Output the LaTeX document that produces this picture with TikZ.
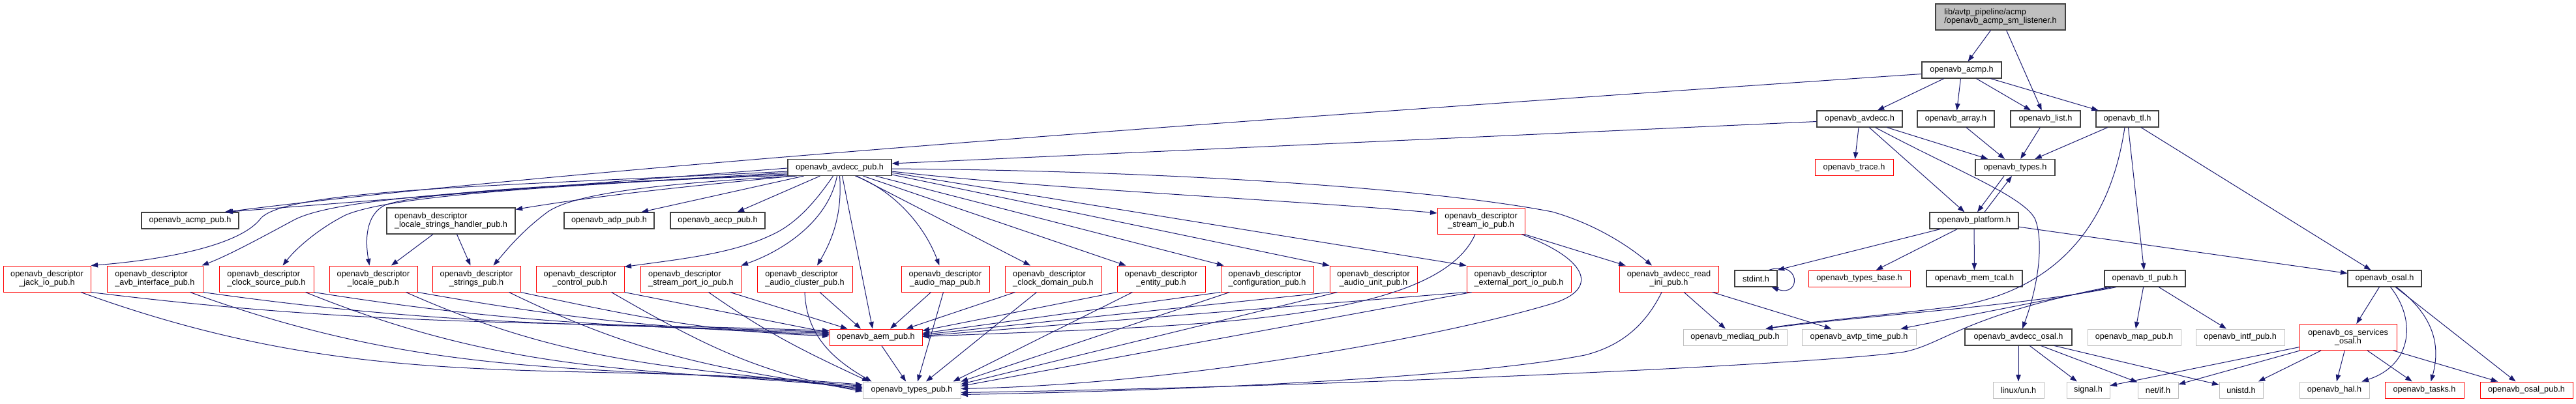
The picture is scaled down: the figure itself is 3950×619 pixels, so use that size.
\documentclass[tikz,border=0pt]{standalone}
\usepackage{fontspec}
\setmainfont{Liberation Sans}
\usetikzlibrary{arrows.meta}

\newcommand{\boxfont}{\fontsize{12.7}{13.4}\selectfont}

\begin{document}
\begin{tikzpicture}[x=1pt, y=-1pt]

% ---------------------------------------------------------------- colours
\definecolor{edgeblue}{HTML}{191970}   % every include arrow
\definecolor{hdrline}{HTML}{404040}    % headers with a page of their own
\definecolor{extline}{HTML}{BFBFBF}    % system / outside headers
\definecolor{rootfill}{HTML}{BFBFBF}   % the file this graph is for
\definecolor{missred}{HTML}{FF0000}    % headers whose graph was cut short

% ---------------------------------------------------------------- styles
\tikzset{
    incl/.style={draw=hdrline, line width=1.2pt, inner sep=0pt,
                 minimum height=25pt, font=\boxfont},
    rootincl/.style={incl, fill=rootfill, minimum height=40pt, align=left},
    redincl/.style={incl, draw=missred, line width=1pt},
    sysincl/.style={incl, draw=extline, line width=1pt},
    twoline/.style={minimum height=40pt},
    dep/.style={edgeblue, line width=1pt,
                -{Triangle[length=10.5pt, width=7.5pt]}},
}

% picture is laid out in pixel units, y running down
\useasboundingbox (0,0) rectangle (3950,619);

% ================================================================
% NODES, rank by rank
% ================================================================

\node[rootincl, minimum width=199pt] (main) at (3067.5,26)
    {lib/avtp\_pipeline/acmp\\/openavb\_acmp\_sm\_listener.h};

\node[incl, minimum width=122pt] (acmp) at (3008,107.5) {openavb\_acmp.h};

\node[incl, minimum width=131pt] (avdecc) at (2851.5,182.5) {openavb\_avdecc.h};
\node[incl, minimum width=118pt] (array) at (2999,182.5) {openavb\_array.h};
\node[incl, minimum width=107pt] (list) at (3136.5,182.5) {openavb\_list.h};
\node[incl, minimum width=96pt] (tl) at (3262,182.5) {openavb\_tl.h};

\node[incl, minimum width=159pt] (avdeccpub) at (1287.5,257) {openavb\_avdecc\_pub.h};
\node[redincl, minimum width=120pt] (trace) at (2843,257) {openavb\_trace.h};
\node[incl, minimum width=122pt] (types) at (3090,257) {openavb\_types.h};

\node[incl, minimum width=149pt] (acmppub) at (291.5,338.5) {openavb\_acmp\_pub.h};
\node[incl, twoline, align=left, minimum width=197pt] (lsh) at (691.5,339)
    {openavb\_descriptor\\\_locale\_strings\_handler\_pub.h};
\node[incl, minimum width=138pt] (adp) at (934,338.5) {openavb\_adp\_pub.h};
\node[incl, minimum width=145pt] (aecp) at (1100.5,338.5) {openavb\_aecp\_pub.h};
\node[redincl, twoline, align=center, minimum width=134pt] (streamio) at (2271,339)
    {openavb\_descriptor\\\_stream\_io\_pub.h};
\node[incl, minimum width=136pt] (platform) at (3027,338.5) {openavb\_platform.h};

% the descriptor headers
\node[redincl, twoline, align=center, minimum width=134pt] (jackio) at (72,428)
    {openavb\_descriptor\\\_jack\_io\_pub.h};
\node[redincl, twoline, align=left, minimum width=147pt] (avbif) at (237.5,428)
    {openavb\_descriptor\\\_avb\_interface\_pub.h};
\node[redincl, twoline, align=left, minimum width=145pt] (clksrc) at (408.5,428)
    {openavb\_descriptor\\\_clock\_source\_pub.h};
\node[redincl, twoline, align=center, minimum width=135pt] (localepub) at (572.5,428)
    {openavb\_descriptor\\\_locale\_pub.h};
\node[redincl, twoline, align=center, minimum width=135pt] (stringspub) at (730.5,428)
    {openavb\_descriptor\\\_strings\_pub.h};
\node[redincl, twoline, align=center, minimum width=135pt] (controlpub) at (889.5,428)
    {openavb\_descriptor\\\_control\_pub.h};
\node[redincl, twoline, align=left, minimum width=155pt] (streamportio) at (1059.5,428)
    {openavb\_descriptor\\\_stream\_port\_io\_pub.h};
\node[redincl, twoline, align=left, minimum width=146pt] (audiocluster) at (1234,428)
    {openavb\_descriptor\\\_audio\_cluster\_pub.h};
\node[redincl, twoline, align=center, minimum width=135pt] (audiomap) at (1449.5,428)
    {openavb\_descriptor\\\_audio\_map\_pub.h};
\node[redincl, twoline, align=left, minimum width=148pt] (clkdomain) at (1615,428)
    {openavb\_descriptor\\\_clock\_domain\_pub.h};
\node[redincl, twoline, align=center, minimum width=135pt] (entity) at (1780.5,428)
    {openavb\_descriptor\\\_entity\_pub.h};
\node[redincl, twoline, align=left, minimum width=142pt] (config) at (1943,428)
    {openavb\_descriptor\\\_configuration\_pub.h};
\node[redincl, twoline, align=center, minimum width=134pt] (audiounit) at (2106,428)
    {openavb\_descriptor\\\_audio\_unit\_pub.h};
\node[redincl, twoline, align=left, minimum width=160pt] (extportio) at (2329,428)
    {openavb\_descriptor\\\_external\_port\_io\_pub.h};
\node[redincl, twoline, align=center, minimum width=152pt] (readini) at (2559,428)
    {openavb\_avdecc\_read\\\_ini\_pub.h};

\node[incl, minimum width=65pt] (stdint) at (2692.5,427.5) {stdint.h};
\node[redincl, minimum width=156pt] (typesbase) at (2851,427.5) {openavb\_types\_base.h};
\node[incl, minimum width=147pt] (memtcal) at (3027.5,427.5) {openavb\_mem\_tcal.h};
\node[incl, minimum width=124pt] (tlpub) at (3289,427.5) {openavb\_tl\_pub.h};
\node[incl, minimum width=113pt] (osal) at (3656.5,427.5) {openavb\_osal.h};

\node[redincl, minimum width=142pt] (aempub) at (1343,517.5) {openavb\_aem\_pub.h};
\node[sysincl, minimum width=159pt] (mediaq) at (2660.5,517.5) {openavb\_mediaq\_pub.h};
\node[sysincl, minimum width=175pt] (avtptime) at (2850.5,517.5) {openavb\_avtp\_time\_pub.h};
\node[incl, minimum width=164pt] (avdeccosal) at (3095,517.5) {openavb\_avdecc\_osal.h};
\node[sysincl, minimum width=143pt] (mappub) at (3272.5,517.5) {openavb\_map\_pub.h};
\node[sysincl, minimum width=136pt] (intfpub) at (3435,517.5) {openavb\_intf\_pub.h};
\node[redincl, twoline, align=center, minimum width=149pt] (ossvc) at (3600.5,517.5)
    {openavb\_os\_services\\\_osal.h};

\node[sysincl, minimum width=150pt] (typespub) at (1398,598.5) {openavb\_types\_pub.h};
\node[sysincl, minimum width=78pt] (linuxun) at (3095,598.5) {linux/un.h};
\node[sysincl, minimum width=66pt] (signal) at (3202,598.5) {signal.h};
\node[sysincl, minimum width=62pt] (netif) at (3309,598.5) {net/if.h};
\node[sysincl, minimum width=67pt] (unistd) at (3436.5,598.5) {unistd.h};
\node[sysincl, minimum width=107pt] (hal) at (3579.5,598.5) {openavb\_hal.h};
\node[redincl, minimum width=121pt] (tasks) at (3717.5,598.5) {openavb\_tasks.h};
\node[redincl, minimum width=142pt] (osalpub) at (3874,598.5) {openavb\_osal\_pub.h};

% ================================================================
% INCLUDES, grouped by the file that does the including
% ================================================================

% ---------------------------------------------------------------- top
\draw[dep] (main) -- (acmp);
\draw[dep] (main) -- (list);

\draw[dep] (acmp) -- (avdecc);
\draw[dep] (acmp) -- (array);
\draw[dep] (acmp) -- (list);
\draw[dep] (acmp) -- (tl);
% long run right across the top, past avdecc_pub
\draw[dep] ([yshift=-6]acmp.west) .. controls (2000,178) and (900,255)
    .. ([xshift=-22]acmppub.north east);

\draw[dep] ([yshift=-4]avdecc.west) -- ([yshift=6]avdeccpub.east);
\draw[dep] (avdecc) -- (trace);
\draw[dep] (avdecc) -- (types);
\draw[dep] (avdecc) -- (platform);
\draw[dep] ([xshift=24]avdecc.south) .. controls (3000,262) and (3100,300)
    .. (3120,335) .. controls (3135,370) and (3125,440)
    .. ([xshift=6]avdeccosal.north);

\draw[dep] (array) -- (types);
\draw[dep] (list) -- (types);

\draw[dep] (tl) -- (types);
\draw[dep] (tl) -- (tlpub);
\draw[dep] (tl) -- (osal);
\draw[dep] ([xshift=-4]tl.south) .. controls (3235,350) and (3150,445)
    .. (3000,470) .. controls (2880,485) and (2760,495)
    .. ([xshift=47]mediaq.north);

% types.h and platform.h include each other
\draw[dep] ([xshift=-17]types.south) -- ([xshift=5]platform.north);
\draw[dep] ([xshift=16]platform.north) -- ([xshift=-5]types.south);
\draw[dep] (platform) -- (stdint.north east);
\draw[dep] (platform) -- (typesbase);
\draw[dep] (platform) -- (memtcal);
\draw[dep] (platform) -- (osal);
% stdint.h includes itself
\draw[dep] ([xshift=20]stdint.north) .. controls (2762,398) and (2762,457)
    .. ([xshift=24]stdint.south);

% ---------------------------------------------------------------- osal side
\draw[dep] (osal) -- (ossvc);
\draw[dep] ([xshift=9]osal.south) .. controls (3705,490) and (3700,560)
    .. ([xshift=-12]hal.north east);
\draw[dep] ([xshift=18]osal.south) .. controls (3740,490) and (3740,540)
    .. ([xshift=10]tasks.north);
\draw[dep] (osal) -- (osalpub);

\draw[dep] (ossvc) -- (hal);
\draw[dep] (ossvc) -- (tasks);
\draw[dep] (ossvc) -- (osalpub);
\draw[dep] (ossvc) -- (signal);
\draw[dep] (ossvc) -- (netif);
\draw[dep] (ossvc) -- (unistd);

\draw[dep] (avdeccosal) -- (linuxun);
\draw[dep] (avdeccosal) -- (signal);
\draw[dep] (avdeccosal) -- (netif);
\draw[dep] (avdeccosal) -- (unistd);

\draw[dep] (tlpub) -- (mappub);
\draw[dep] (tlpub) -- (intfpub);
\draw[dep] ([xshift=-44]tlpub.south) .. controls (3100,470) and (2850,485)
    .. ([xshift=47]mediaq.north);
\draw[dep] ([xshift=-50]tlpub.south) -- ([xshift=64]avtptime.north);
\draw[dep] ([xshift=-56]tlpub.south) .. controls (3010,485) and (2980,528)
    .. (2920,540) .. controls (2800,558) and (2100,592)
    .. ([yshift=-4]typespub.east);

\draw[dep] (readini) -- (mediaq);
\draw[dep] (readini) -- (avtptime);
\draw[dep] ([xshift=-11]readini.south) .. controls (2525,495) and (2490,530)
    .. (2430,545) .. controls (2250,580) and (1800,600)
    .. ([yshift=-7]typespub.east);

\draw[dep] (streamio) -- (readini);
\draw[dep] ([xshift=-9]streamio.south) .. controls (2200,500) and (1800,500)
    .. ([yshift=1]aempub.east);
\draw[dep] ([xshift=62]streamio.south) .. controls (2440,400) and (2450,445)
    .. (2380,466) .. controls (2200,520) and (1800,590)
    .. ([yshift=2]typespub.east);

\draw[dep] (lsh) -- (localepub);
\draw[dep] (lsh) -- (stringspub);

\draw[dep] (aempub) -- (typespub);

% ---------------------------------------------------------------- avdecc_pub fans out
\draw[dep] ([yshift=-1]avdeccpub.west) -- ([xshift=-20]acmppub.north east);
\draw[dep] ([yshift=-6]avdeccpub.west) .. controls (780,285) and (440,290)
    .. (400,335) .. controls (370,375) and (260,398) .. (jackio.north east);
\draw[dep] ([yshift=-8]avdeccpub.west) .. controls (800,290) and (520,300)
    .. (450,338) .. controls (400,365) and (350,392)
    .. ([xshift=-2]avbif.north east);
\draw[dep] ([yshift=-10]avdeccpub.west) .. controls (850,285) and (600,300)
    .. (530,330) .. controls (490,350) and (455,380)
    .. ([xshift=25]clksrc.north);
\draw[dep] ([yshift=-12]avdeccpub.west) .. controls (900,280) and (640,295)
    .. (590,315) .. controls (560,330) and (560,370)
    .. ([xshift=-6]localepub.north);
\draw[dep] ([xshift=-72]avdeccpub.south) .. controls (1100,282) and (950,295)
    .. ([yshift=-3]lsh.north east);
\draw[dep] ([xshift=-66]avdeccpub.south) .. controls (1000,282) and (880,298)
    .. (840,325) .. controls (800,355) and (780,380)
    .. ([xshift=26]stringspub.north);
\draw[dep] ([xshift=-55]avdeccpub.south) -- ([xshift=-20]adp.north east);
\draw[dep] (avdeccpub) -- (aecp);
\draw[dep] ([xshift=-10]avdeccpub.south) .. controls (1250,310) and (1220,345)
    .. (1180,362) .. controls (1120,390) and (1040,398)
    .. ([yshift=-2]controlpub.north east);
\draw[dep] ([xshift=-4]avdeccpub.south) .. controls (1270,340) and (1200,385)
    .. ([xshift=-1]streamportio.north east);
\draw[dep] (avdeccpub.south) .. controls (1292,330) and (1275,370)
    .. ([xshift=19]audiocluster.north);
\draw[dep] ([xshift=4]avdeccpub.south) -- ([xshift=-5]aempub.north);
\draw[dep] ([xshift=24]avdeccpub.south) .. controls (1365,290) and (1415,340)
    .. ([xshift=-9]audiomap.north);
\draw[dep] ([xshift=26]avdeccpub.south) -- ([xshift=-35]clkdomain.north);
\draw[dep] ([xshift=36]avdeccpub.south) -- ([xshift=14]entity.north west);
\draw[dep] ([xshift=55]avdeccpub.south) -- ([xshift=5]config.north west);
\draw[dep] ([yshift=-11]avdeccpub.east) -- (audiounit.north west);
\draw[dep] ([yshift=-8]avdeccpub.east) -- (extportio.north west);
\draw[dep] ([yshift=-6]avdeccpub.east) .. controls (1600,290) and (2000,308)
    .. ([yshift=12]streamio.west);
\draw[dep] ([yshift=-2]avdeccpub.east) .. controls (1800,262) and (2200,290)
    .. (2380,325) .. controls (2450,345) and (2500,380)
    .. ([xshift=-26]readini.north);

% ---------------------------------------------------------------- descriptors down to aem_pub and types_pub
% left of aem_pub: they come in from the left
\draw[dep] (jackio.south east) .. controls +(-7:444pt) and +(178:444pt)
    .. ([yshift=10]aempub.west);
\draw[dep] ([xshift=52]jackio.south) .. controls +(-20:472pt) and +(175:472pt)
    .. ([yshift=8]typespub.west);
\draw[dep] (avbif.south east) .. controls +(-8:377pt) and +(178:377pt)
    .. ([yshift=8]aempub.west);
\draw[dep] ([xshift=54]avbif.south) .. controls +(-20:408pt) and +(175:408pt)
    .. ([yshift=6]typespub.west);
\draw[dep] (clksrc.south east) .. controls +(-9:310pt) and +(178:310pt)
    .. ([yshift=6]aempub.west);
\draw[dep] ([xshift=60]clksrc.south) .. controls +(-22:339pt) and +(175:339pt)
    .. ([yshift=4]typespub.west);
\draw[dep] (localepub.south east) .. controls +(-10:248pt) and +(178:248pt)
    .. ([yshift=4]aempub.west);
\draw[dep] ([xshift=50]localepub.south) .. controls +(-24:280pt) and +(173:280pt)
    .. ([yshift=2]typespub.west);
\draw[dep] (stringspub.south east) .. controls +(-12:187pt) and +(178:187pt)
    .. ([yshift=2]aempub.west);
\draw[dep] ([xshift=50]stringspub.south) .. controls +(-26:220pt) and +(172:220pt)
    .. (typespub.west);
\draw[dep] (controlpub.south east) -- ([yshift=7]aempub.west);
\draw[dep] ([xshift=48]controlpub.south) .. controls +(-30:162pt) and +(170:162pt)
    .. ([yshift=-2]typespub.west);
\draw[dep] ([xshift=60]streamportio.south) -- ([xshift=28]aempub.north west);
\draw[dep] ([xshift=27]streamportio.south) .. controls +(-35:110pt) and +(155:110pt)
    .. ([xshift=10]typespub.north west);
\draw[dep] ([xshift=23]audiocluster.south) -- ([xshift=-23]aempub.north);
\draw[dep] (audiocluster.south) .. controls +(-88:67pt) and +(150:67pt)
    .. ([xshift=14]typespub.north west);

% right of aem_pub: they come in from the right
\draw[dep] ([xshift=-22]audiomap.south) -- ([xshift=22]aempub.north);
\draw[dep] ([xshift=-3]audiomap.south) -- ([xshift=9]typespub.north);
\draw[dep] ([xshift=16]clkdomain.south west) -- ([xshift=-25]aempub.north east);
\draw[dep] ([xshift=49]clkdomain.south west) -- ([xshift=22]typespub.north);
\draw[dep] (entity.south west) -- ([yshift=-3]aempub.north east);
\draw[dep] ([xshift=24]entity.south west) -- ([xshift=-12]typespub.north east);
\draw[dep] (config.south west) -- ([yshift=6]aempub.east);
\draw[dep] ([xshift=14]config.south west) -- (typespub.north east);
\draw[dep] (audiounit.south west) -- ([yshift=4]aempub.east);
\draw[dep] ([xshift=12]audiounit.south west) -- ([yshift=9]typespub.east);
\draw[dep] (extportio.south west) -- ([yshift=2]aempub.east);
\draw[dep] ([xshift=8]extportio.south west) -- ([yshift=6]typespub.east);

\end{tikzpicture}
\end{document}
